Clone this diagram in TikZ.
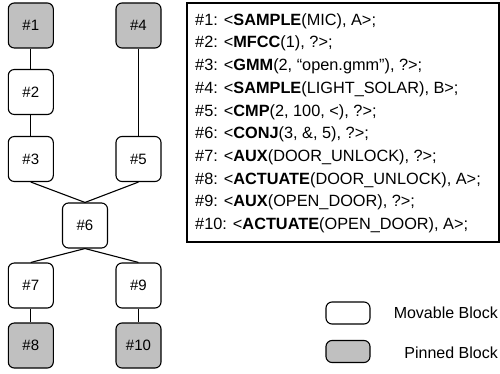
\documentclass[tikz,border=0pt]{standalone}
\usepackage{fontspec}
\setmainfont{Liberation Sans}
\definecolor{pin}{RGB}{192,192,192}
\tikzset{
  blk/.style={draw=black, line width=1.1pt, rounded corners=6pt, minimum width=45pt, minimum height=45pt, inner sep=0pt, font=\fontsize{15}{18}\selectfont, fill=white},
  pinned/.style={blk, fill=pin},
  conn/.style={line width=1.1pt},
  lst/.style={anchor=west, inner sep=0pt, font=\fontsize{16.3}{19}\selectfont},
  leg/.style={draw=black, line width=1.1pt, rounded corners=6pt, minimum width=44pt, minimum height=22pt, inner sep=0pt},
  legt/.style={anchor=east, inner sep=0pt, font=\fontsize{16}{19}\selectfont}
}
\begin{document}
\begin{tikzpicture}[x=1pt,y=-1pt]
\useasboundingbox (0,0) rectangle (500,374);
% blocks
\node[pinned] (n1) at (30.8,25.5) {\#1};
\node[blk] (n2) at (30.8,92) {\#2};
\node[blk] (n3) at (30.8,159) {\#3};
\node[pinned] (n4) at (138.5,25.5) {\#4};
\node[blk] (n5) at (138.5,159) {\#5};
\node[blk] (n6) at (85,225.5) {\#6};
\node[blk] (n7) at (30.8,285.5) {\#7};
\node[pinned] (n8) at (30.8,345.5) {\#8};
\node[blk] (n9) at (138.5,285.5) {\#9};
\node[pinned] (n10) at (138.5,345.5) {\#10};
% connectors
\draw[conn] (n1) -- (n2);
\draw[conn] (n2) -- (n3);
\draw[conn] (n4) -- (n5);
\draw[conn] (n3.south) -- (n6.north);
\draw[conn] (n5.south) -- (n6.north);
\draw[conn] (n6.south) -- (n7.north);
\draw[conn] (n6.south) -- (n9.north);
\draw[conn] (n7) -- (n8);
\draw[conn] (n9) -- (n10);
% list box
\node[draw=black, line width=1.1pt, minimum width=312pt, minimum height=239pt, inner sep=0pt] (box) at (343,122.5) {};
\node[lst] (l1) at (195,21) {\#1: <\textbf{SAMPLE}(MIC), A>;};
\node[lst] (l2) at (195,43.7) {\#2: <\textbf{MFCC}(1), ?>;};
\node[lst] (l3) at (195,66.4) {\#3: <\textbf{GMM}(2, “open.gmm”), ?>;};
\node[lst] (l4) at (195,89.1) {\#4: <\textbf{SAMPLE}(LIGHT\_SOLAR), B>;};
\node[lst] (l5) at (195,111.8) {\#5: <\textbf{CMP}(2, 100, <), ?>;};
\node[lst] (l6) at (195,134.5) {\#6: <\textbf{CONJ}(3, \&, 5), ?>;};
\node[lst] (l7) at (195,157.2) {\#7: <\textbf{AUX}(DOOR\_UNLOCK), ?>;};
\node[lst] (l8) at (195,179.9) {\#8: <\textbf{ACTUATE}(DOOR\_UNLOCK), A>;};
\node[lst] (l9) at (195,202.6) {\#9: <\textbf{AUX}(OPEN\_DOOR), ?>;};
\node[lst] (l10) at (195,225.3) {\#10: <\textbf{ACTUATE}(OPEN\_DOOR), A>;};
% legend
\node[leg, fill=white] (lm) at (348,313) {};
\node[leg, fill=pin] (lp) at (348,351.5) {};
\node[legt] (tm) at (498,313) {Movable Block};
\node[legt] (tp) at (498,353) {Pinned Block};
\end{tikzpicture}
\end{document}
